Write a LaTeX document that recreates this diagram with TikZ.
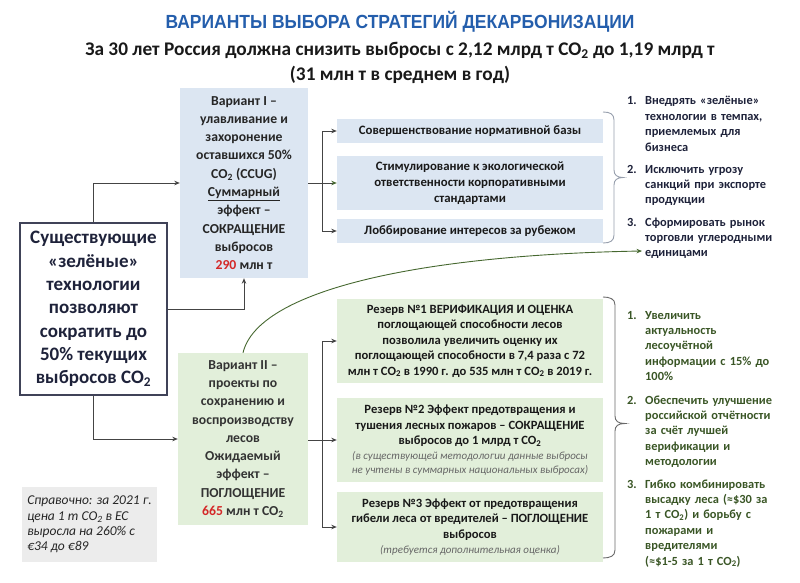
\documentclass[tikz,border=0pt]{standalone}
\usepackage{fontspec}
\setmainfont{Carlito}
\newfontfamily\titlefont[FakeStretch=0.92]{Liberation Sans}
\usetikzlibrary{arrows.meta}

\definecolor{titleblue}{RGB}{36,94,172}
\definecolor{paleblue}{RGB}{220,230,242}
\definecolor{palegreen}{RGB}{226,239,218}
\definecolor{notegray}{RGB}{236,236,236}
\definecolor{navyink}{RGB}{30,34,58}
\definecolor{greenink}{RGB}{58,86,38}
\definecolor{wire}{RGB}{68,68,68}
\definecolor{wiregreen}{RGB}{70,104,48}
\definecolor{bracegray}{RGB}{150,158,172}
\definecolor{valred}{RGB}{212,40,40}

\newcommand{\redval}[1]{{\color{valred}#1}}
\newcommand{\remarkfont}{\mdseries\itshape\fontsize{11}{13.5}\selectfont\color{black!60}}

\tikzset{
  heading/.style={text=titleblue, font=\titlefont\bfseries\fontsize{19}{22}\selectfont},
  goaltext/.style={align=center, text=black!90, font=\bfseries\fontsize{19.3}{25}\selectfont},
  mainbox/.style={draw=navyink!85, line width=1.1pt, fill=white, align=center, inner sep=0pt, text=navyink, font=\bfseries\fontsize{19}{23.3}\selectfont},
  varbox/.style={inner sep=0pt, align=center, font=\bfseries\fontsize{13.7}{18.3}\selectfont},
  toolbox/.style={fill=paleblue, inner sep=0pt, minimum width=266, align=center, text=black!90, font=\bfseries\fontsize{12.8}{16}\selectfont},
  resbox/.style={fill=palegreen, inner sep=0pt, minimum width=266, align=center, text=black!90, font=\bfseries\fontsize{12.6}{15.4}\selectfont},
  notebox/.style={fill=notegray, inner sep=0pt, align=left, text=black!85, font=\itshape\fontsize{13.5}{15.3}\selectfont},
  listnum/.style={anchor=base west, inner sep=0pt, font=\bfseries\fontsize{12.4}{15.4}\selectfont},
  listtext/.style={anchor=base west, inner sep=0pt, text width=155, align=left, font=\bfseries\fontsize{12.4}{15.4}\selectfont},
  link/.style={draw=wire, line width=0.9pt, -{Stealth[length=5.5pt,width=4.5pt]}},
  bracket/.style={line width=0.9pt},
}

\begin{document}
\begin{tikzpicture}[x=1pt,y=-1pt]
\useasboundingbox (0,0) rectangle (800,583);

\node[heading] (title) at (400,22) {ВАРИАНТЫ ВЫБОРА СТРАТЕГИЙ ДЕКАРБОНИЗАЦИИ};
\node[goaltext] (goal) at (400,62.5) {За 30 лет Россия должна снизить выбросы с 2,12 млрд т CO\textsubscript{2} до 1,19 млрд т\\(31 млн т в среднем в год)};

\node[mainbox, minimum width=147, minimum height=172] (tech) at (93.5,309) {Существующие\\«зелёные»\\технологии\\позволяют\\сократить до\\50\% текущих\\выбросов CO\textsubscript{2}};

\node[varbox, fill=paleblue, text=black!85, minimum width=128, minimum height=190] (var1) at (244,183) {Вариант I –\\улавливание и\\захоронение\\оставшихся 50\%\\CO\textsubscript{2} (CCUG)\\\underline{Суммарный}\\эффект –\\СОКРАЩЕНИЕ\\выбросов\\\redval{290} млн т};
\node[varbox, fill=palegreen, text=black!80, minimum width=130, minimum height=172] (var2) at (243,439) {Вариант II –\\проекты по\\сохранению и\\воспроизводству\\лесов\\Ожидаемый\\эффект –\\ПОГЛОЩЕНИЕ\\\redval{665} млн т CO\textsubscript{2}};

\node[toolbox, minimum height=24] (norm) at (470,131) {Совершенствование нормативной базы};
\node[toolbox, minimum height=54] (esg) at (470,183) {Стимулирование к экологической\\ответственности корпоративными\\стандартами};
\node[toolbox, minimum height=24] (lobby) at (470,231) {Лоббирование интересов за рубежом};

\node[resbox, minimum height=84] (res1) at (470,341) {Резерв №1 ВЕРИФИКАЦИЯ И ОЦЕНКА\\поглощающей способности лесов\\позволила увеличить оценку их\\поглощающей способности в 7,4 раза с 72\\млн т CO\textsubscript{2} в 1990 г. до 535 млн т CO\textsubscript{2} в 2019 г.};
\node[resbox, minimum height=84] (res2) at (470,440) {Резерв №2 Эффект предотвращения и\\тушения лесных пожаров – СОКРАЩЕНИЕ\\выбросов до 1 млрд т CO\textsubscript{2}\\{\remarkfont (в существующей методологии данные выбросы}\\[-2pt]{\remarkfont не учтены в суммарных национальных выбросах)}};
\node[resbox, minimum height=70] (res3) at (470,527) {Резерв №3 Эффект от предотвращения\\гибели леса от вредителей – ПОГЛОЩЕНИЕ\\выбросов\\{\remarkfont (требуется дополнительная оценка)}};

\node[notebox, minimum width=135, minimum height=75] (note) at (89.5,524.5) {Справочно: за 2021 г.\\цена 1 т CO\textsubscript{2} в ЕС\\выросла на 260\% с\\€34 до €89};

\node[listnum, text=navyink] (bus1n) at (627,105) {1.};
\node[listtext, text=navyink] (bus1) at (645,105) {Внедрять «зелёные»\\технологии в темпах,\\приемлемых для\\бизнеса};
\node[listnum, text=navyink] (bus2n) at (627,173) {2.};
\node[listtext, text=navyink] (bus2) at (645,173) {Исключить угрозу\\санкций при экспорте\\продукции};
\node[listnum, text=navyink] (bus3n) at (627,226) {3.};
\node[listtext, text=navyink] (bus3) at (645,226) {Сформировать рынок\\торговли углеродными\\единицами};

\node[listnum, text=greenink] (for1n) at (627,319) {1.};
\node[listtext, text=greenink] (for1) at (645,319) {Увеличить\\актуальность\\лесоучётной\\информации с 15\% до\\100\%};
\node[listnum, text=greenink] (for2n) at (627,404) {2.};
\node[listtext, text=greenink] (for2) at (645,404) {Обеспечить улучшение\\российской отчётности\\за счёт лучшей\\верификации и\\методологии};
\node[listnum, text=greenink] (for3n) at (627,488) {3.};
\node[listtext, text=greenink] (for3) at (645,488) {Гибко комбинировать\\высадку леса (≈\$30 за\\1 т CO\textsubscript{2}) и борьбу с\\пожарами и\\вредителями\\(≈\$1-5 за 1 т CO\textsubscript{2})};

\coordinate (forkA) at (322,183);
\coordinate (forkB) at (322,440);
\coordinate (unitsend) at (642,251);

\draw[link] (tech.north) |- (var1.west);
\draw[link] (tech.east) -| (var1.south);
\draw[link] (tech.south) |- (var2.west);
\draw[link, -{Stealth[length=5.5pt,width=4.5pt,color=wiregreen]}] (var1.east) -- (esg.west);
\draw[link] (forkA) |- (norm.west);
\draw[link] (forkA) |- (lobby.west);
\draw[link] (var2.east |- res2.west) -- (res2.west);
\draw[link] (forkB) |- (res1.west);
\draw[link] (forkB) |- (res3.west);
\draw[link, draw=wiregreen] (var2.north) .. controls (258,290) and (420,255) .. (unitsend);

\draw[bracket, draw=bracegray] (603,112) .. controls (610,112) and (614,114) .. (614,120) -- (614,170)
  .. controls (614,175) and (617,177.5) .. (623,177.5) .. controls (617,177.5) and (614,180) .. (614,185)
  -- (614,235) .. controls (614,241) and (610,243) .. (603,243);
\draw[bracket, draw=wire!80] (603,297) .. controls (610,297) and (615,299) .. (615,305) -- (615,416)
  .. controls (615,421) and (618,423.5) .. (625,423.5) .. controls (618,423.5) and (615,426) .. (615,431)
  -- (615,550) .. controls (615,556) and (610,558) .. (603,558);
\end{tikzpicture}
\end{document}
